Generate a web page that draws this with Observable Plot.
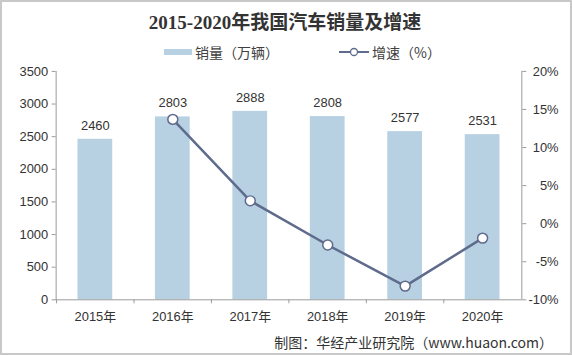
<!DOCTYPE html>
<html>
<head>
<meta charset="utf-8">
<script src="https://cdn.jsdelivr.net/npm/d3@7"></script>
<script src="https://cdn.jsdelivr.net/npm/@observablehq/plot@0.6"></script>
<style>
  html, body { margin: 0; padding: 0; background: #fff; }
  #wrap { position: relative; width: 572px; height: 355px; box-sizing: border-box; border: 2px solid #c8c8c8; overflow: hidden; font-family: "Liberation Sans", "Noto Sans CJK SC", sans-serif; }
  #title { position: absolute; left: 0; width: 566px; top: 9px; line-height: 24px; text-align: center; font-family: "Liberation Serif", "Noto Sans CJK SC", serif; font-weight: bold; font-size: 19px; color: #333; }
  #legend { position: absolute; top: 40px; left: 162px; display: flex; justify-content: flex-start; gap: 60px; font-size: 14px; line-height: 20px; color: #404040; font-family: "Noto Sans CJK SC", sans-serif; }
  .item { display: flex; align-items: center; gap: 3px; }
  #chart { position: absolute; left: 0; top: 58px; }
  #caption { position: absolute; right: 17px; top: 330px; font-size: 14px; line-height: 20px; color: #333; font-family: "Noto Sans CJK SC", "Liberation Sans", sans-serif; }
</style>
</head>
<body>
<div id="wrap">
  <div id="title">2015-2020年我国汽车销量及增速</div>
  <div id="legend">
    <div class="item"><svg width="28" height="10"><rect x="0" y="2" width="28" height="6" fill="#b7d0e2"></rect></svg><span>销量（万辆）</span></div>
    <div class="item"><svg width="30" height="12"><line x1="0" x2="30" y1="6" y2="6" stroke="#5f6b8c" stroke-width="2"></line><circle cx="15" cy="6" r="3.5" fill="#fff" stroke="#5f6b8c" stroke-width="1.3"></circle></svg><span>增速（%）</span></div>
  </div>
  <div id="chart"></div>
  <div id="caption">制图：华经产业研究院（www.huaon.com）</div>
</div>
<script>
const years = ["2015年", "2016年", "2017年", "2018年", "2019年", "2020年"];
const sales = [2460, 2803, 2888, 2808, 2577, 2531];
const growth = [null, 13.7, 3.0, -2.8, -8.2, -1.9];
const leftTicks = [0, 500, 1000, 1500, 2000, 2500, 3000, 3500];
const rightTicks = [-10, -5, 0, 5, 10, 15, 20];

const yMax = 3500, pMin = -10, pMax = 20;
const toLeft = p => (p - pMin) / (pMax - pMin) * yMax;
const toPct = v => v / yMax * (pMax - pMin) + pMin;

const barData = years.map((y, i) => ({year: y, sales: sales[i]}));
const lineData = years.map((y, i) => ({year: y, g: growth[i]})).filter(d => d.g != null);

const W = 572, mL = 54, mR = 49;
const halfBand = (W - mL - mR) / years.length / 2;
const axisColor = "#9a9a9a";
const chart = Plot.plot({
  width: W,
  height: 271,
  marginTop: 11,
  marginBottom: 30,
  marginLeft: mL,
  marginRight: mR,
  style: {fontFamily: "'Liberation Sans', 'Noto Sans CJK SC', sans-serif", fontSize: "13px", color: "#333", background: "transparent"},
  x: {domain: years, paddingInner: 0.55, paddingOuter: 0.275, label: null},
  y: {domain: [0, yMax], label: null},
  marks: [
    Plot.barY(barData, {x: "year", y: "sales", fill: "#b7d0e2"}),
    Plot.text(barData, {x: "year", y: "sales", text: d => String(d.sales), dy: -14, fontSize: 13, fill: "#333"}),
    Plot.line(lineData, {x: "year", y: d => toLeft(d.g), stroke: "#5f6b8c", strokeWidth: 2.5}),
    Plot.dot(lineData, {x: "year", y: d => toLeft(d.g), r: 5, fill: "#fff", stroke: "#5f6b8c", strokeWidth: 1.5}),
    Plot.frame({anchor: "left", stroke: axisColor}),
    Plot.frame({anchor: "right", stroke: axisColor}),
    Plot.ruleY([0], {stroke: axisColor}),
    Plot.axisY({anchor: "left", ticks: leftTicks, tickFormat: d => String(d), tickSize: 4, tickPadding: 4, stroke: axisColor, fill: "#333", fontSize: 13, label: null}),
    Plot.axisY({anchor: "right", ticks: rightTicks.map(toLeft), tickFormat: v => Math.round(toPct(v)) + "%", tickSize: 4, tickPadding: 33, textAnchor: "end", stroke: axisColor, fill: "#333", fontSize: 13, label: null}),
    Plot.axisX({tickSize: 4, tickFormat: () => "", dx: -halfBand, stroke: axisColor, label: null}),
    Plot.axisX({tickSize: 0, tickPadding: 12, fill: "#333", fontSize: 13, label: null})
  ]
});
document.getElementById("chart").appendChild(chart);
</script>
</body>
</html>
